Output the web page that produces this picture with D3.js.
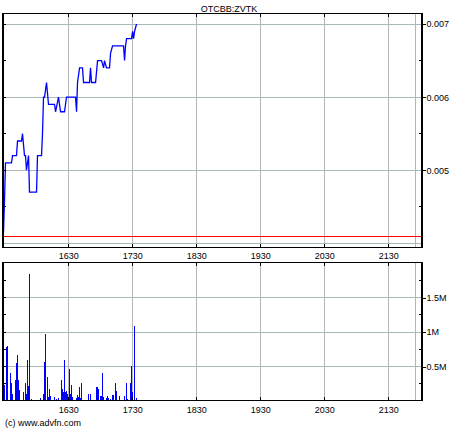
<!DOCTYPE html>
<html>
<head>
<meta charset="utf-8">
<script src="https://cdn.jsdelivr.net/npm/d3@7"></script>
<style>
  body { margin: 0; background: #fff; }
  svg { display: block; font-family: "Liberation Sans", Arial, sans-serif; }
  .lbl { font-size: 9px; fill: #000; }
</style>
</head>
<body>
<div id="chart"></div>
<script>
var width = 460,
    height = 430;

// price trace (time units as shown on the x axis)
var priceTimes = [1529, 1530.6, 1532.1, 1541.5, 1543.1, 1549.3, 1550.9, 1557.1, 1558.7, 1561.8,
    1563.4, 1564.9, 1568.1, 1569.6, 1580.6, 1582.1, 1588.4, 1589.9, 1591.5, 1593.1,
    1596.2, 1599.3, 1608.7, 1610.3, 1614.9, 1618.1, 1624.3, 1627.4, 1641.5, 1643.1,
    1644.6, 1647.8, 1652.4, 1654, 1663.4, 1664.9, 1666.5, 1672.8, 1675.9, 1682.1,
    1685.3, 1686.8, 1689.9, 1694.6, 1696.2, 1699.3, 1716.5, 1718.1, 1719.6, 1721.2,
    1729, 1730.6, 1732.1, 1733.7, 1736.8];
var priceValues = [0.00415, 0.0046, 0.0051, 0.0051, 0.0052, 0.0052, 0.0054, 0.0054, 0.0055, 0.0052,
    0.0052, 0.0050, 0.0052, 0.0047, 0.0047, 0.0052, 0.0052, 0.0055, 0.0060, 0.0060,
    0.0062, 0.0059, 0.0059, 0.0058, 0.0060, 0.0058, 0.0058, 0.0060, 0.0060, 0.0058,
    0.0062, 0.0064, 0.0064, 0.0062, 0.0062, 0.0064, 0.0062, 0.0062, 0.0065, 0.0065,
    0.0064, 0.0065, 0.0064, 0.0064, 0.0066, 0.0067, 0.0067, 0.0065, 0.0067, 0.0068,
    0.0068, 0.0069, 0.0068, 0.0069, 0.0070];

var volumeTimes = [1530.6, 1534.2, 1535.7, 1539.9, 1542.0, 1543.5, 1547.8, 1549.3, 1551.3, 1552.9,
    1554.5, 1560.3, 1563.8, 1565.4, 1567.0, 1568.5, 1570.1, 1572.8, 1587.3, 1592.0,
    1593.5, 1595.1, 1598.2, 1599.8, 1601.3, 1602.9, 1609.2, 1611.8, 1615.4, 1620.1,
    1621.7, 1622.8, 1624.8, 1626.3, 1627.9, 1629.5, 1632.6, 1634.2, 1635.7, 1636.8,
    1643.1, 1644.6, 1646.2, 1647.8, 1649.3, 1650.9, 1662.3, 1665.4, 1674.8, 1676.3,
    1677.9, 1681.0, 1682.6, 1684.2, 1685.7, 1690.4, 1692.0, 1693.5, 1696.7, 1699.3,
    1700.9, 1704.5, 1706.0, 1710.3, 1718.1, 1721.2, 1722.8, 1727.5, 1729.0, 1730.6,
    1733.7, 1736.8];
var volumeValues = [230000, 770000, 790000, 400000, 260000, 90000, 300000, 540000, 660000, 300000,
    150000, 120000, 250000, 100000, 590000, 210000, 1840000, 20000, 40000, 100000,
    560000, 970000, 340000, 50000, 170000, 70000, 50000, 20000, 40000, 300000,
    170000, 120000, 580000, 120000, 140000, 100000, 460000, 100000, 220000, 50000,
    40000, 80000, 50000, 190000, 40000, 250000, 90000, 90000, 190000, 190000,
    170000, 60000, 60000, 400000, 50000, 40000, 60000, 30000, 20000, 80000,
    80000, 250000, 140000, 60000, 60000, 250000, 20000, 250000, 500000, 120000,
    1080000, 40000];

var refPrice = 0.00409;
var xTicks = [1630, 1730, 1830, 1930, 2030, 2130];
var xExtraGrid = [2172];
var priceTicks = [0.005, 0.006, 0.007];
var priceGrid = [0.004, 0.005, 0.006, 0.007];
var priceMinor = [0.0045, 0.0055, 0.0065];
var volumeTicks = [500000, 1000000, 1500000];
var volumeMinor = [250000, 750000, 1250000, 1750000];

var x = d3.scaleLinear().domain([1529, 2185]).range([3, 423]);
var y = d3.scaleLinear().domain([0.00393, 0.00713]).range([248, 14]);
var yv = d3.scaleLinear().domain([0, 2000000]).range([400.5, 262.5]);

var svg = d3.select("#chart").append("svg")
    .attr("width", width)
    .attr("height", height);

svg.append("rect").attr("width", width).attr("height", height).attr("fill", "#fff");

function px(v) { return Math.round(v) + 0.5; }

function panel(yScale, top, bottom, gridVals) {
    var g = svg.append("g").attr("shape-rendering", "crispEdges");
    // vertical grid
    g.selectAll(".vg").data(xTicks.concat(xExtraGrid)).enter().append("line")
        .attr("x1", d => px(x(d))).attr("x2", d => px(x(d)))
        .attr("y1", top).attr("y2", bottom)
        .attr("stroke", "#b4b4b4");
    // horizontal grid
    g.selectAll(".hg").data(gridVals).enter().append("line")
        .attr("x1", 3).attr("x2", 423)
        .attr("y1", d => px(yScale(d))).attr("y2", d => px(yScale(d)))
        .attr("stroke", "#a9b9b9");
    return g;
}

function frame(yScale, top, bottom, minorVals, majorVals) {
    var g = svg.append("g").attr("shape-rendering", "crispEdges");
    g.append("rect")
        .attr("x", 2.5).attr("y", top - 0.5)
        .attr("width", 420).attr("height", bottom - top)
        .attr("fill", "none").attr("stroke", "#000");
    g.append("line").attr("x1", 3.5).attr("x2", 3.5).attr("y1", top).attr("y2", bottom).attr("stroke", "#000");
    g.append("line").attr("x1", 421.5).attr("x2", 421.5).attr("y1", top).attr("y2", bottom).attr("stroke", "#000");
    // ticks on top and bottom edges
    g.selectAll(".tt").data(xTicks).enter().append("line")
        .attr("x1", d => px(x(d))).attr("x2", d => px(x(d)))
        .attr("y1", top).attr("y2", top + 3).attr("stroke", "#000");
    g.selectAll(".bt").data(xTicks).enter().append("line")
        .attr("x1", d => px(x(d))).attr("x2", d => px(x(d)))
        .attr("y1", bottom - 4).attr("y2", bottom).attr("stroke", "#000");
    // left and right minor/major ticks
    var all = minorVals.concat(majorVals);
    g.selectAll(".lt").data(all).enter().append("line")
        .attr("x1", 3).attr("x2", 6)
        .attr("y1", d => px(yScale(d))).attr("y2", d => px(yScale(d)))
        .attr("stroke", "#000");
    g.selectAll(".rt").data(minorVals).enter().append("line")
        .attr("x1", 419).attr("x2", 422)
        .attr("y1", d => px(yScale(d))).attr("y2", d => px(yScale(d)))
        .attr("stroke", "#000");
}

// price panel
panel(y, 14, 248, priceGrid);

svg.append("line")
    .attr("shape-rendering", "crispEdges")
    .attr("x1", 3).attr("x2", 423)
    .attr("y1", px(y(refPrice))).attr("y2", px(y(refPrice)))
    .attr("stroke", "#ff0000");

var priceData = priceTimes.map((t, i) => [t, priceValues[i]]);
svg.append("path")
    .datum(priceData)
    .attr("fill", "none")
    .attr("stroke", "#0000ff")
    .attr("stroke-width", 1.3)
    .attr("d", d3.line().x(d => x(d[0]) + 0.5).y(d => y(d[1]) + 0.5));

frame(y, 14, 248, priceMinor, priceTicks);

// volume panel
panel(yv, 262.5, 400.5, volumeTicks);

var volData = volumeTimes.map((t, i) => [t, volumeValues[i]]);
svg.append("g").attr("shape-rendering", "crispEdges")
    .selectAll("rect").data(volData).enter().append("rect")
    .attr("x", d => Math.round(x(d[0])))
    .attr("width", 1)
    .attr("y", d => Math.round(yv(d[1])))
    .attr("height", d => Math.round(yv(0)) - Math.round(yv(d[1])))
    .attr("fill", "#0000ff");

frame(yv, 262.5, 400.5, volumeMinor, volumeTicks);

// axes
function styleAxis(g) {
    g.select(".domain").remove();
    g.selectAll("text").attr("class", "lbl").attr("fill", "#000").style("font-size", "9px");
    g.selectAll("line").attr("stroke", "#000").attr("shape-rendering", "crispEdges");
}

svg.append("g")
    .attr("transform", "translate(422.5,0.5)")
    .call(d3.axisRight(y).tickValues(priceTicks).tickFormat(d3.format(".3f")).tickSize(3).tickPadding(1))
    .call(styleAxis);

var volFmt = d => (d / 1e6) + "M";
svg.append("g")
    .attr("transform", "translate(422.5,0.5)")
    .call(d3.axisRight(yv).tickValues(volumeTicks).tickFormat(volFmt).tickSize(3).tickPadding(1))
    .call(styleAxis);

svg.append("g")
    .attr("transform", "translate(0.5,248)")
    .call(d3.axisBottom(x).tickValues(xTicks).tickFormat(d3.format("d")).tickSize(0).tickPadding(5))
    .call(styleAxis);

svg.append("g")
    .attr("transform", "translate(0.5,400.5)")
    .call(d3.axisBottom(x).tickValues(xTicks).tickFormat(d3.format("d")).tickSize(0).tickPadding(6))
    .call(styleAxis);

svg.append("text")
    .attr("class", "lbl")
    .attr("x", 229).attr("y", 12)
    .attr("text-anchor", "middle")
    .text("OTCBB:ZVTK");

svg.append("text")
    .attr("class", "lbl")
    .attr("x", 5).attr("y", 426)
    .text("(c) www.advfn.com");
</script>
</body>
</html>
